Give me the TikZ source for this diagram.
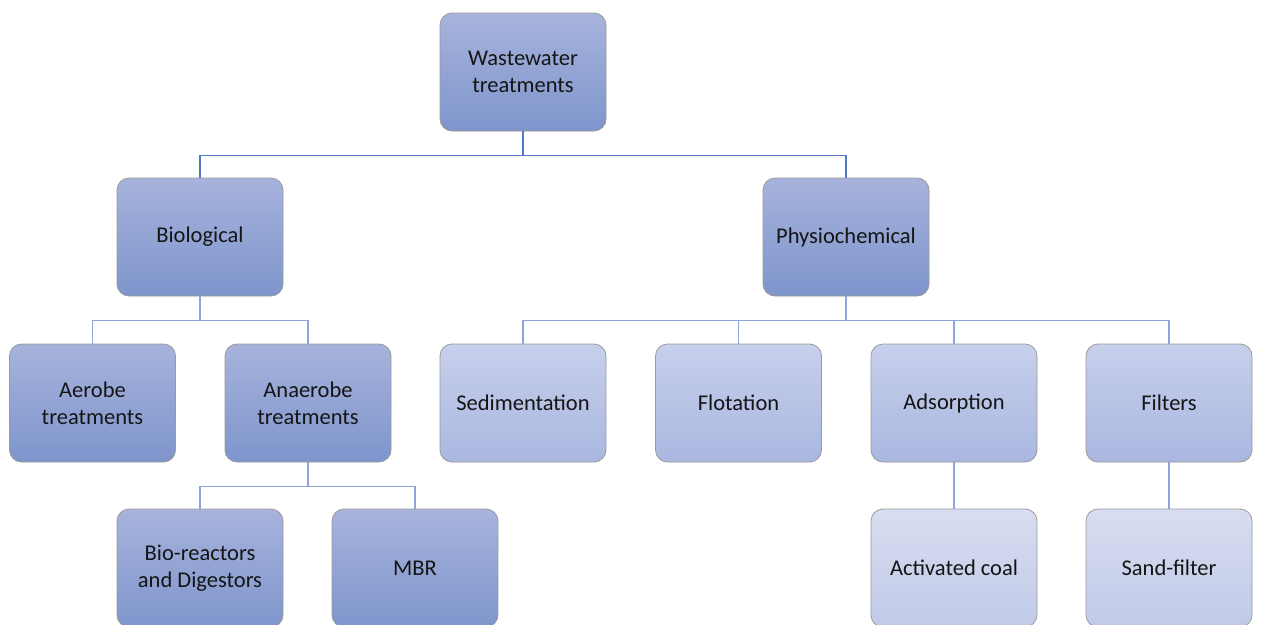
\documentclass[tikz,border=0pt]{standalone}
\usepackage{fontspec}
\setmainfont{Carlito}
\definecolor{darktop}{HTML}{A7B3DC}
\definecolor{darkbot}{HTML}{7E95CC}
\definecolor{midtop}{HTML}{C7CFEB}
\definecolor{midbot}{HTML}{A9B7E0}
\definecolor{lighttop}{HTML}{D8DDF0}
\definecolor{lightbot}{HTML}{C0CAE8}
\definecolor{edgegray}{HTML}{9A9A9A}
\definecolor{mainline}{HTML}{4F79C8}
\definecolor{subline}{HTML}{8FA5DA}
\definecolor{txt}{HTML}{151515}
\tikzset{
  box/.style={rectangle, rounded corners=12pt, draw=edgegray, line width=0.8pt,
    minimum width=166pt, minimum height=118pt, align=center, text=txt,
    font=\fontsize{22.5pt}{27pt}\selectfont, inner sep=2pt},
  darkbox/.style={box, top color=darktop, bottom color=darkbot},
  midbox/.style={box, top color=midtop, bottom color=midbot},
  lightbox/.style={box, top color=lighttop, bottom color=lightbot},
  mainlink/.style={draw=mainline, line width=1.1pt},
  sublink/.style={draw=subline, line width=1.1pt},
}
\begin{document}
\begin{tikzpicture}[x=1pt,y=-1pt]
\useasboundingbox (0,0) rectangle (1261,624);
\fill[white] (0,0) rectangle (1261,624);

% top level
\node[darkbox] (root) at (523,72) {Wastewater\\treatments};

% second level
\node[darkbox] (bio) at (200,237) {Biological};
\node[darkbox] (phys) at (846,237) {Physiochemical};

% third level
\node[darkbox] (aer) at (92.5,403) {Aerobe\\treatments};
\node[darkbox] (ana) at (308,403) {Anaerobe\\treatments};
\node[midbox] (sed) at (523,403) {Sedimentation};
\node[midbox] (flo) at (738.5,403) {Flotation};
\node[midbox] (ads) at (954,403) {Adsorption};
\node[midbox] (fil) at (1169,403) {Filters};

% fourth level
\node[darkbox] (bior) at (200,568) {Bio-reactors\\and Digestors};
\node[darkbox] (mbr) at (415,568) {MBR};
\node[lightbox] (coal) at (954,568) {Activated coal};
\node[lightbox] (sand) at (1169,568) {Sand-filter};

% connectors
\draw[mainlink] (root.south) -- ++(0,24) -| (bio.north);
\draw[mainlink] (root.south) -- ++(0,24) -| (phys.north);

\draw[sublink] (bio.south) -- ++(0,24) -| (aer.north);
\draw[sublink] (bio.south) -- ++(0,24) -| (ana.north);

\draw[sublink] (phys.south) -- ++(0,24) -| (sed.north);
\draw[sublink] (phys.south) -- ++(0,24) -| (flo.north);
\draw[sublink] (phys.south) -- ++(0,24) -| (ads.north);
\draw[sublink] (phys.south) -- ++(0,24) -| (fil.north);

\draw[sublink] (ana.south) -- ++(0,24) -| (bior.north);
\draw[sublink] (ana.south) -- ++(0,24) -| (mbr.north);

\draw[sublink] (ads.south) -- (coal.north);
\draw[sublink] (fil.south) -- (sand.north);
\end{tikzpicture}
\end{document}
